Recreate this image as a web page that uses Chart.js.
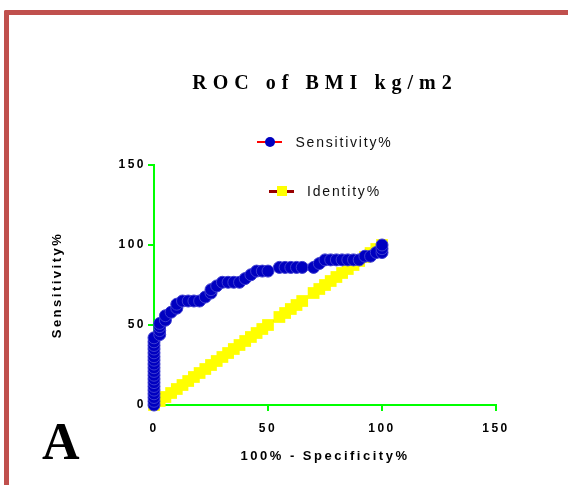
<!DOCTYPE html>
<html><head><meta charset="utf-8">
<script src="https://cdn.jsdelivr.net/npm/chart.js@4.4.1/dist/chart.umd.min.js"></script>
<style>
html,body{margin:0;padding:0;background:#fff;}
#wrap{position:relative;width:568px;height:485px;overflow:hidden;background:#fff;}
#frame{position:absolute;left:4px;top:10px;width:700px;height:700px;border-top:5px solid #C0504D;border-left:5px solid #C0504D;border-top-left-radius:2px;}
#c{position:absolute;left:0;top:0;}
#legend{position:absolute;left:154px;top:132px;width:342px;font-family:"Liberation Sans",Arial,sans-serif;font-size:14px;letter-spacing:1.8px;color:#111;}
.row{display:flex;align-items:center;justify-content:center;height:20px;margin-bottom:29px;}
.sym{position:relative;width:25px;margin-right:13px;}
.mk{position:absolute;left:50%;top:50%;transform:translate(-50%,-50%);}
#panel{position:absolute;left:42px;top:416px;font-family:"Liberation Serif","Times New Roman",serif;font-weight:bold;font-size:52px;line-height:52px;color:#000;}
</style></head>
<body><div id="wrap"><div id="frame"></div><canvas id="c" width="568" height="485"></canvas><div id="legend"></div><div id="panel">A</div></div>
<script>
const titleText = 'ROC of BMI kg/m2';
const xTitle = '100% - Specificity%';
const yTitle = 'Sensitivity%';
const tickValues = [0, 50, 100, 150];

// ROC curve (Sensitivity%) vs 100% - Specificity%
const specX = [0,0,0,0,0,0,0,0,0,0,0,0,0,0,0,0,0,0,0,
  2.5,2.5,2.5,2.5, 5,5, 7.5, 10,10, 12.5,15,17.5,20, 22.5, 25,25, 27.5,
  30,32.5,35,37.5, 40, 42.5, 45,47.5,50, 55,57.5,60,62.5,65, 70, 72.5,
  75,77.5,80,82.5,85,87.5,90, 92.5,95, 97.5, 100,100,100];
const sensY = [0,2.3,4.7,7,9.3,11.6,14,16.3,18.6,21,23.3,25.6,28,30.2,32.6,35,37.2,39.5,42,
  44,46.5,49,51, 53,55.8, 58, 60.5,63, 65,65,65,65, 67.5, 70,72.1, 74.4,
  76.7,76.7,76.7,76.7, 79, 81.4, 83.7,83.7,83.7, 86,86,86,86,86, 86, 88.4,
  90.7,90.7,90.7,90.7,90.7,90.7,90.7, 93,93, 95.3, 95.3,97.7,100];

// Identity line
const idX = [0,2.5,5,7.5,10,12.5,15,17.5,20,22.5,25,27.5,30,32.5,35,37.5,40,42.5,45,47.5,50,
  55,57.5,60,62.5,65,70,72.5,75,77.5,80,82.5,85,87.5,90,92.5,95,97.5,100];
const idY = [0,2.5,5,7.5,10,12.5,15,17.5,20,22.5,25,27.5,30,32.5,35,37.5,40,42.5,45,47.5,50,
  55,57.5,60,62.5,65,70,72.5,75,77.5,80,82.5,85,87.5,90,92.5,95,97.5,100];

const GREEN = '#00FF00';
const tickFont = {family: '"Liberation Sans", Arial, sans-serif', size: 12, weight: 'bold'};
const axTitleFont = {family: '"Liberation Sans", Arial, sans-serif', size: 13, weight: 'bold'};

const spacingPlugin = {
  id: 'spacing',
  beforeLayout(chart) { chart.ctx.letterSpacing = '2.5px'; },
  beforeDraw(chart) { chart.ctx.letterSpacing = '2.5px'; },
  afterInit(chart) {
    const tb = chart.titleBlock;
    if (tb && !tb._wrapped) {
      const d = tb.draw;
      tb.draw = function (a) {
        const c = chart.ctx; c.save(); c.letterSpacing = '6px'; d.call(this, a); c.restore();
      };
      tb._wrapped = true;
    }
  }
};

const htmlLegend = {
  id: 'htmlLegend',
  afterUpdate(chart) {
    const box = document.getElementById('legend');
    box.innerHTML = '';
    const items = chart.options.plugins.legend.labels.generateLabels(chart);
    items.forEach(item => {
      const ds = chart.data.datasets[item.datasetIndex];
      const row = document.createElement('div'); row.className = 'row';
      const sym = document.createElement('span'); sym.className = 'sym';
      sym.style.height = ds.legendLineWidth + 'px';
      sym.style.background = ds.borderColor;
      const mk = document.createElement('span'); mk.className = 'mk';
      const s = ds.legendMarkerSize;
      mk.style.width = s + 'px'; mk.style.height = s + 'px';
      mk.style.background = ds.pointBackgroundColor;
      if (ds.pointStyle === 'circle') mk.style.borderRadius = '50%';
      sym.appendChild(mk);
      const tx = document.createElement('span'); tx.textContent = item.text;
      row.appendChild(sym); row.appendChild(tx);
      box.appendChild(row);
    });
  }
};

const axisCommon = (title, tpad, tickPad) => ({
  type: 'linear', min: 0, max: 150,
  afterBuildTicks(s) { s.ticks = tickValues.map(v => ({value: v})); },
  ticks: {color: '#000', font: tickFont, padding: tickPad, maxRotation: 0, autoSkip: false},
  grid: {display: true, drawOnChartArea: false, drawTicks: true, tickLength: 6, color: GREEN, lineWidth: 2},
  border: {display: true, color: GREEN, width: 2},
  title: {display: true, text: title, color: '#000', font: axTitleFont, padding: tpad}
});

const xAxis = Object.assign(axisCommon(xTitle, {top: 0, bottom: 21.2}, 10), {position: 'bottom', afterFit(s) { s.height = 80; }});
const yAxis = Object.assign(axisCommon(yTitle, {top: 49.7, bottom: 0}, 2), {position: 'left', afterFit(s) { s.width = 154; }});

new Chart(document.getElementById('c'), {
  type: 'scatter',
  data: {
    datasets: [
      {
        label: 'Sensitivity%',
        data: specX.map((x, i) => ({x: x, y: sensY[i]})),
        showLine: true,
        borderColor: '#FF0000',
        borderWidth: 1.5,
        pointStyle: 'circle',
        pointRadius: 6,
        pointBackgroundColor: '#0000C0',
        pointBorderColor: '#3c3cd0',
        pointBorderWidth: 1,
        clip: false,
        legendLineWidth: 2,
        legendMarkerSize: 10
      },
      {
        label: 'Identity%',
        data: idX.map((x, i) => ({x: x, y: idY[i]})),
        showLine: true,
        borderColor: '#990000',
        borderWidth: 2,
        pointStyle: 'rect',
        pointRadius: 8.3,
        pointBackgroundColor: '#FFFF00',
        pointBorderColor: '#FFFF00',
        pointBorderWidth: 0,
        clip: false,
        legendLineWidth: 3,
        legendMarkerSize: 10
      }
    ]
  },
  options: {
    responsive: false,
    animation: false,
    layout: {padding: {left: 0, right: 72, top: 0, bottom: 0}},
    plugins: {
      legend: {display: false},
      tooltip: {enabled: false},
      title: {
        display: true, text: titleText, fullSize: false, color: '#000',
        font: {family: '"Liberation Serif", "Times New Roman", serif', size: 20, weight: 'bold'},
        padding: {top: 72, bottom: 69}
      }
    },
    scales: {x: xAxis, y: yAxis}
  },
  plugins: [spacingPlugin, htmlLegend]
});
</script></body></html>
